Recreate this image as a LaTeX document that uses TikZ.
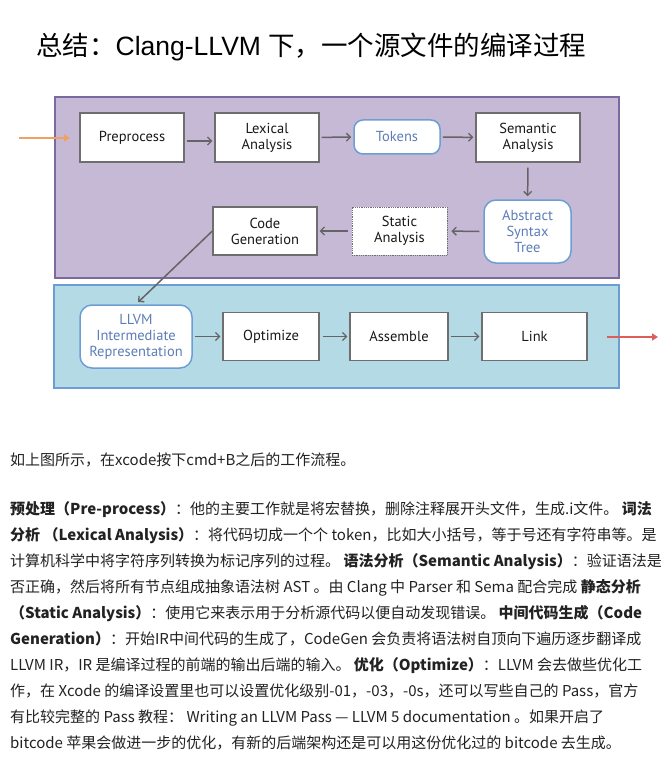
\documentclass[tikz,border=0pt]{standalone}
\usepackage{fontspec}
\setmainfont{Liberation Sans}
\newfontfamily\cjk{Noto Sans CJK SC}
\newfontfamily\helv{Liberation Sans}
\newfontfamily\boxfont{PT Sans}
\usetikzlibrary{arrows.meta}
\definecolor{purplefill}{RGB}{198,185,214}
\definecolor{purpleline}{RGB}{122,106,158}
\definecolor{bluefill}{RGB}{180,219,229}
\definecolor{blueline}{RGB}{108,158,212}
\definecolor{bluetext}{RGB}{92,126,182}
\definecolor{boxline}{RGB}{110,110,110}
\definecolor{arrowgray}{RGB}{100,100,100}
\definecolor{orangearr}{RGB}{240,160,96}
\definecolor{redarr}{RGB}{222,92,92}
\definecolor{bodytext}{RGB}{34,34,34}
\tikzset{
  stepbox/.style={draw=boxline, line width=1.3pt, fill=white, inner sep=0pt,
    align=center, font=\boxfont\fontsize{14.5}{16}\selectfont, text=black!90},
  roundbox/.style={stepbox, draw=blueline, line width=1.5pt, rounded corners=9pt, text=bluetext},
  dotbox/.style={stepbox, draw=boxline, line width=0.8pt, densely dotted},
  flow/.style={draw=arrowgray, line width=1.5pt, -{Straight Barb[length=4pt,width=8pt,line width=1.3pt]},
    shorten <=2pt, shorten >=2pt},
  bodyline/.style={anchor=base west, inner sep=0pt, text=bodytext,
    font=\cjk\fontsize{15}{26}\selectfont},
}
\begin{document}
\begin{tikzpicture}[x=1pt,y=-1pt]
\useasboundingbox (0,0) rectangle (665,762);
\fill[white] (0,0) rectangle (665,762);
% title
\node[anchor=base west, inner sep=0pt, font=\fontsize{26.5}{30}\selectfont] (title) at (36,56)
  {{\cjk 总结：}{\helv Clang-LLVM }{\cjk 下，一个源文件的编译过程}};
% panels
\draw[fill=purplefill, draw=purpleline, line width=1.5pt] (55,97) rectangle (619,278);
\draw[fill=bluefill, draw=blueline, line width=1.5pt] (54,285) rectangle (619,388);
% nodes
\node[stepbox, minimum width=104pt, minimum height=49pt] (pre) at (132,137.5) {Preprocess};
\node[stepbox, minimum width=104pt, minimum height=49pt] (lex) at (267,137.5) {Lexical\\Analysis};
\node[roundbox, minimum width=86pt, minimum height=34pt] (tok) at (397,137) {Tokens};
\node[stepbox, minimum width=104pt, minimum height=49pt] (sem) at (528,137.5) {Semantic\\Analysis};
\node[roundbox, rounded corners=12pt, minimum width=87pt, minimum height=63pt] (ast) at (527.5,231.5) {Abstract\\Syntax\\Tree};
\node[dotbox, minimum width=95pt, minimum height=48pt] (sta) at (399.5,231) {Static\\Analysis};
\node[stepbox, minimum width=104pt, minimum height=48pt] (cg) at (265,231) {Code\\Generation};
\node[roundbox, rounded corners=12pt, minimum width=112pt, minimum height=63pt] (ir) at (136,336.5) {LLVM\\Intermediate\\Representation};
\node[stepbox, minimum width=96pt, minimum height=48pt] (opt) at (271,336.5) {Optimize};
\node[stepbox, minimum width=98pt, minimum height=48pt] (asm) at (399,336.5) {Assemble};
\node[stepbox, minimum width=105pt, minimum height=48pt] (lnk) at (534.5,336.5) {Link};
\coordinate (inS) at (19,138);
\coordinate (inE) at (70,138);
\coordinate (outS) at (607,337);
\coordinate (outE) at (658,337);
% connectors
\draw[draw=orangearr, line width=1.5pt, -{Triangle[length=6pt,width=7pt]}] (inS) -- (inE);
\draw[flow] (pre.east |- 0,141) -- (lex.west |- 0,141);
\draw[flow] (lex) -- (tok);
\draw[flow] (tok) -- (sem);
\draw[flow, shorten <=5pt, shorten >=3pt] (sem) -- (ast);
\draw[flow, shorten <=4pt, shorten >=4pt] (ast) -- (sta);
\draw[flow, shorten <=4pt, shorten >=2pt] (sta) -- (cg);
\draw[flow, shorten <=0pt, shorten >=3pt] (cg.west) -- (ir.north);
\draw[flow] (ir) -- (opt);
\draw[flow, shorten <=3pt] (opt) -- (asm);
\draw[flow] (asm) -- (lnk);
\draw[draw=redarr, line width=1.5pt, -{Triangle[length=6pt,width=7pt]}] (outS) -- (outE);
% body text
\node[bodyline] (l1) at (10,465) {如上图所示，在xcode按下cmd+B之后的工作流程。};
\node[bodyline] (l2) at (10,514) {{\bfseries 预处理（Pre-process）}：他的主要工作就是将宏替换，删除注释展开头文件，生成.i文件。 {\bfseries 词法}};
\node[bodyline] (l3) at (10,540) {{\bfseries 分析 （Lexical Analysis）}：将代码切成一个个 token，比如大小括号，等于号还有字符串等。是};
\node[bodyline] (l4) at (10,566) {计算机科学中将字符序列转换为标记序列的过程。 {\bfseries 语法分析（Semantic Analysis）}：验证语法是};
\node[bodyline] (l5) at (10,592) {否正确，然后将所有节点组成抽象语法树 AST 。由 Clang 中 Parser 和 Sema 配合完成 {\bfseries 静态分析}};
\node[bodyline] (l6) at (10,618) {{\bfseries （Static Analysis）}：使用它来表示用于分析源代码以便自动发现错误。 {\bfseries 中间代码生成（Code}};
\node[bodyline] (l7) at (10,644) {{\bfseries Generation）}：开始IR中间代码的生成了，CodeGen 会负责将语法树自顶向下遍历逐步翻译成};
\node[bodyline] (l8) at (10,670) {LLVM IR，IR 是编译过程的前端的输出后端的输入。 {\bfseries 优化（Optimize）}：LLVM 会去做些优化工};
\node[bodyline] (l9) at (10,696) {作，在 Xcode 的编译设置里也可以设置优化级别-01，-03，-0s，还可以写些自己的 Pass，官方};
\node[bodyline] (l10) at (10,722) {有比较完整的 Pass 教程： Writing an LLVM Pass — LLVM 5 documentation 。如果开启了};
\node[bodyline] (l11) at (10,748) {bitcode 苹果会做进一步的优化，有新的后端架构还是可以用这份优化过的 bitcode 去生成。};
\end{tikzpicture}
\end{document}
